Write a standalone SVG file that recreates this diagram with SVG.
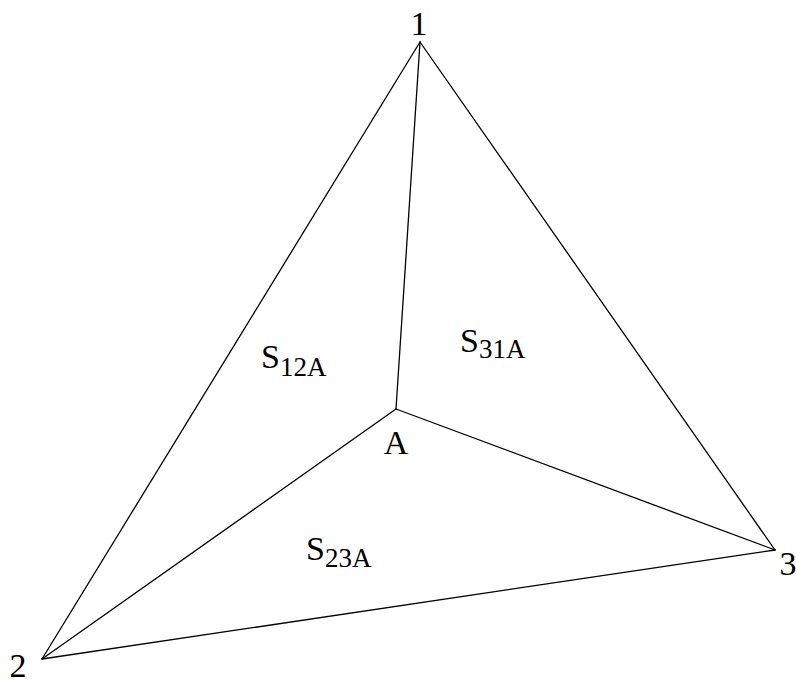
<svg xmlns="http://www.w3.org/2000/svg" width="796" height="682" viewBox="0 0 796 682">
<style>
.e{stroke:#000;stroke-width:1.3;fill:none;stroke-linecap:round}
text{font-family:"Liberation Serif","Times New Roman",serif;fill:#000}
.l{font-size:34px}
.s{font-size:27px}
</style>
<rect width="796" height="682" fill="#fff"/>
<g id="connectors">
<line class="e" x1="420" y1="42" x2="42" y2="659"/>
<line class="e" x1="420" y1="42" x2="775" y2="550"/>
<line class="e" x1="42" y1="659" x2="775" y2="550"/>
<line class="e" x1="420" y1="42" x2="396" y2="409"/>
<line class="e" x1="396" y1="409" x2="42" y2="659"/>
<line class="e" x1="396" y1="409" x2="775" y2="550"/>
</g>
<g id="node-1"><text class="l" x="419" y="35" text-anchor="middle">1</text></g>
<g id="node-2"><text class="l" x="18" y="677" text-anchor="middle">2</text></g>
<g id="node-3"><text class="l" x="788" y="575" text-anchor="middle">3</text></g>
<g id="node-A"><text class="l" x="396" y="454" text-anchor="middle">A</text></g>
<g id="label-S12A"><text class="l" x="261" y="368">S<tspan class="s" dy="8">12A</tspan></text></g>
<g id="label-S31A"><text class="l" x="460" y="352">S<tspan class="s" dy="6">31A</tspan></text></g>
<g id="label-S23A"><text class="l" x="306" y="560">S<tspan class="s" dy="7">23A</tspan></text></g>
</svg>
